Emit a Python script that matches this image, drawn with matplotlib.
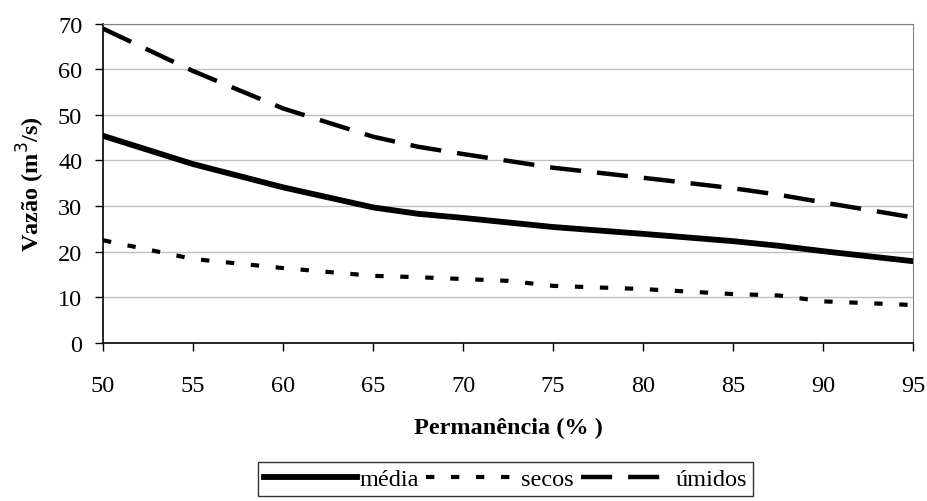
import matplotlib
matplotlib.use("Agg")
import matplotlib.pyplot as plt

# permanência (%) e vazões (m3/s)
permanencia = [50, 55, 60, 65, 67.5, 70, 72.5, 75, 80, 85, 87.5, 90, 95]
media = [45.4, 39.2, 34.1, 29.7, 28.3, 27.4, 26.4, 25.4, 23.9, 22.3, 21.3, 20.1, 17.9]
secos = [22.5, 18.4, 16.4, 14.7, 14.4, 14.0, 13.6, 12.5, 11.8, 10.7, 10.4, 9.1, 8.3]
umidos = [68.9, 59.6, 51.4, 45.2, 43.0, 41.4, 39.9, 38.4, 36.2, 33.9, 32.5, 30.8, 27.5]

plt.rcParams["font.family"] = ["Liberation Serif", "DejaVu Serif"]
plt.rcParams["font.size"] = 17.5

fig = plt.figure(figsize=(9.28, 5.02), dpi=100)
ax = fig.add_axes([0.111, 0.315, 0.873, 0.636])

ax.plot(permanencia, media, color="black", lw=4.2, label="média")
ax.plot(permanencia, secos, color="black", lw=3.0, dashes=(2.0, 4.0), label="secos")
ax.plot(permanencia, umidos, color="black", lw=3.2, dashes=(7, 3.6), label="úmidos")

ax.set_xlim(50, 95)
ax.set_ylim(0, 70)
ax.set_xticks(range(50, 96, 5))
ax.set_yticks(range(0, 71, 10))
ax.yaxis.grid(True, color="#c0c0c0", lw=1)
ax.set_axisbelow(True)
ax.tick_params(direction="out", length=6, width=1, colors="black")
for s in ["top", "right"]:
    ax.spines[s].set_color("#808080")
for s in ["left", "bottom"]:
    ax.spines[s].set_color("black")
    ax.spines[s].set_linewidth(1.2)
ax.tick_params(axis="x", pad=17)
ax.tick_params(axis="y", pad=9)

ax.set_xlabel("Permanência (% )", fontweight="bold", labelpad=15)
ax.set_ylabel("Vazão (m$^3$/s)", fontweight="bold", labelpad=8)

leg = fig.legend(loc="upper center", bbox_to_anchor=(0.545, 1 - 463 / 502), ncol=3,
                 frameon=True, fancybox=False, handlelength=3.8, handletextpad=0.1,
                 columnspacing=0.3, borderpad=0.25, borderaxespad=0)
leg.get_frame().set_edgecolor("black")
leg.get_frame().set_linewidth(1)

fig.savefig("out.png", dpi=100)
